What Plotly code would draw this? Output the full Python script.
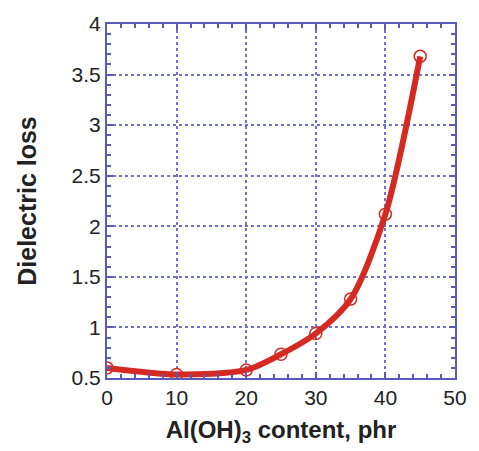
import plotly.graph_objects as go

content_phr = [0, 10, 20, 25, 30, 35, 40, 45]
dielectric_loss = [0.60, 0.535, 0.58, 0.735, 0.94, 1.28, 2.12, 3.68]

x_ticks = [0, 10, 20, 30, 40, 50]
y_ticks = [0.5, 1, 1.5, 2, 2.5, 3, 3.5, 4]
y_tick_labels = ["0.5", "1", "1.5", "2", "2.5", "3", "3.5", "4"]

red = "#d42a22"
blue = "#5a5ab8"
grid = "#7070d0"

fig = go.Figure()
fig.add_trace(go.Scatter(
    x=content_phr, y=dielectric_loss, mode="lines",
    line=dict(color=red, width=6, shape="spline", smoothing=0.8),
    hoverinfo="skip", showlegend=False))
fig.add_trace(go.Scatter(
    x=content_phr, y=dielectric_loss, mode="markers",
    marker=dict(symbol="circle-open", size=12, color=red, line=dict(width=1.5, color=red)),
    showlegend=False))

axis_common = dict(
    showline=True, linecolor=blue, linewidth=2, mirror="ticks",
    ticks="inside", ticklen=6, tickcolor=blue, tickwidth=1.5,
    showgrid=True, gridcolor=grid, griddash="dot", gridwidth=1.5,
    zeroline=False,
    tickfont=dict(family="Liberation Sans, Arial", size=21, color="#222222"),
)

fig.update_layout(
    width=479, height=451,
    margin=dict(l=107, r=13, t=23, b=73),
    paper_bgcolor="white", plot_bgcolor="white",
    xaxis=dict(range=[0, 50], tickvals=x_ticks,
               minor=dict(dtick=2, ticks="inside", ticklen=4, tickcolor=blue, showgrid=False),
               title=dict(text="<b>Al(OH)<sub>3</sub> content, phr</b>",
                          font=dict(family="Liberation Sans, Arial", size=24, color="#222222"),
                          standoff=13),
               **axis_common),
    yaxis=dict(range=[0.5, 4], tickvals=y_ticks, ticktext=y_tick_labels,
               minor=dict(dtick=0.1, ticks="inside", ticklen=4, tickcolor=blue, showgrid=False),
               title=dict(text="<b>Dielectric loss</b>",
                          font=dict(family="Liberation Sans, Arial", size=25, color="#222222"),
                          standoff=28),
               **axis_common),
)

fig.write_html("out.html")
